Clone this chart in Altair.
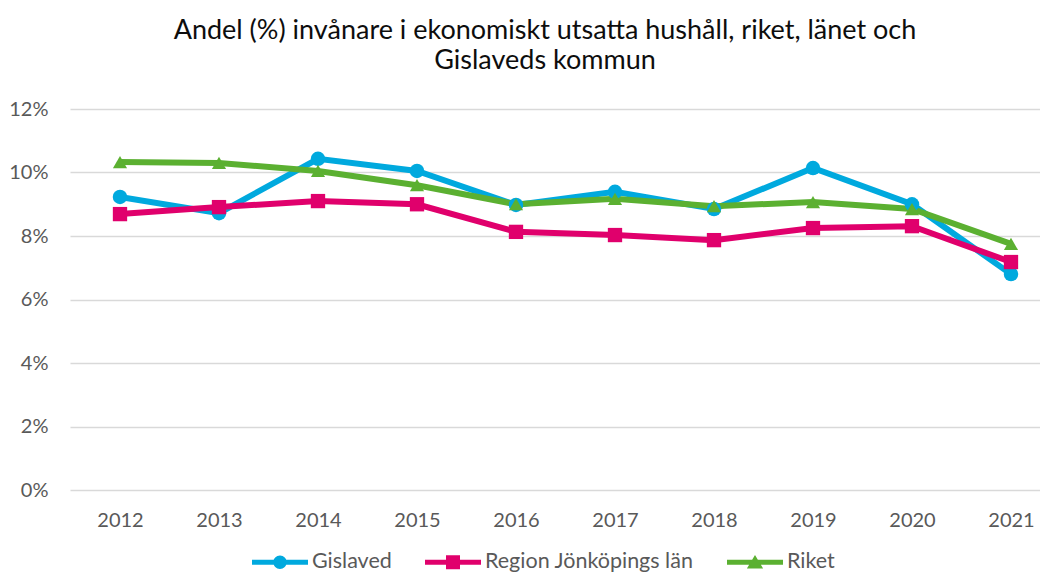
import altair as alt
import pandas as pd

years = [2012, 2013, 2014, 2015, 2016, 2017, 2018, 2019, 2020, 2021]
series_names = ["Gislaved", "Region Jönköpings län", "Riket"]
gislaved = [9.23, 8.72, 10.43, 10.05, 8.98, 9.39, 8.85, 10.14, 9.0, 6.8]
region = [8.69, 8.91, 9.1, 9.0, 8.13, 8.03, 7.87, 8.25, 8.31, 7.18]
riket = [10.33, 10.3, 10.05, 9.6, 9.0, 9.17, 8.94, 9.07, 8.85, 7.75]
y_ticks = [0, 2, 4, 6, 8, 10, 12]
colors = ["#00A9DE", "#E0006C", "#5BB031"]
title_lines = ["Andel (%) invånare i ekonomiskt utsatta hushåll, riket, länet och", "Gislaveds kommun"]

rows = []
for name, vals in zip(series_names, [gislaved, region, riket]):
    for yr, v in zip(years, vals):
        rows.append({"year": yr, "series": name, "value": v})
df = pd.DataFrame(rows)

FONT = "Lato"
GRAY = "#595959"

# legend symbols: line with marker
line_part = "M-1,-0.09L1,-0.09L1,0.09L-1,0.09Z"
circle_path = line_part + "M-0.24,0A0.24,0.24 0 1,1 0.24,0A0.24,0.24 0 1,1 -0.24,0Z"
square_path = line_part + "M-0.25,-0.25L0.25,-0.25L0.25,0.25L-0.25,0.25Z"
tri_path = line_part + "M0,-0.26L0.29,0.22L-0.29,0.22Z"

color_scale = alt.Scale(domain=series_names, range=colors)
x_enc = alt.X(
    "year:Q",
    scale=alt.Scale(domain=[2011.495, 2021.293], nice=False, zero=False),
    axis=alt.Axis(values=years, format="d", title=None, grid=False, domain=False, ticks=False,
                  labelPadding=20, labelFontSize=20, labelColor=GRAY, labelFont=FONT),
)
y_enc = alt.Y(
    "value:Q",
    scale=alt.Scale(domain=[0, 12], nice=False),
    axis=alt.Axis(values=y_ticks, labelExpr="datum.value + '%'", title=None, domain=False, ticks=False,
                  labelPadding=22, labelFontSize=20, labelColor=GRAY, labelFont=FONT,
                  gridColor="#D9D9D9", gridWidth=1.5),
)

base = alt.Chart(df)
lines = base.mark_line(strokeWidth=6).encode(
    x=x_enc, y=y_enc,
    color=alt.Color("series:N", scale=color_scale, legend=None),
    detail="series:N",
)
points = base.mark_point(filled=True, opacity=1, strokeWidth=0).encode(
    x=x_enc, y=y_enc,
    color=alt.Color("series:N", scale=color_scale, legend=None),
    shape=alt.Shape("series:N", scale=alt.Scale(domain=series_names, range=["circle", "square", "triangle-up"]), legend=None),
    size=alt.Size("series:N", scale=alt.Scale(domain=series_names, range=[210, 200, 270]), legend=None),
)

legend_kw = dict(
    orient="none", legendX=182, legendY=425, direction="horizontal", title=None,
    symbolSize=3136, symbolStrokeWidth=0, labelFontSize=21.5, labelColor=GRAY, labelFont=FONT,
    labelOffset=4, columnPadding=33, symbolOpacity=1, labelLimit=400,
)
legend_layer = base.transform_filter("false").mark_point(filled=True, opacity=1).encode(
    x=x_enc, y=y_enc,
    color=alt.Color("series:N", scale=color_scale, legend=alt.Legend(**legend_kw)),
    shape=alt.Shape("series:N", scale=alt.Scale(domain=series_names, range=[circle_path, square_path, tri_path]),
                    legend=alt.Legend(**legend_kw)),
)

chart = alt.layer(lines, points, legend_layer).resolve_scale(
    color="independent", shape="independent"
).properties(
    width=970, height=381,
    title=alt.Title(title_lines, fontSize=27, font=FONT, fontWeight="normal", color="#0D0D0D",
                    anchor="middle", offset=24, lineHeight=30, dx=-10),
    autosize=alt.AutoSizeParams(type="none"),
    padding={"left": 62, "top": 101, "right": 0, "bottom": 84},
).configure_view(stroke=None)

chart.save("out.html", embed_options={"renderer": "svg", "actions": False})
